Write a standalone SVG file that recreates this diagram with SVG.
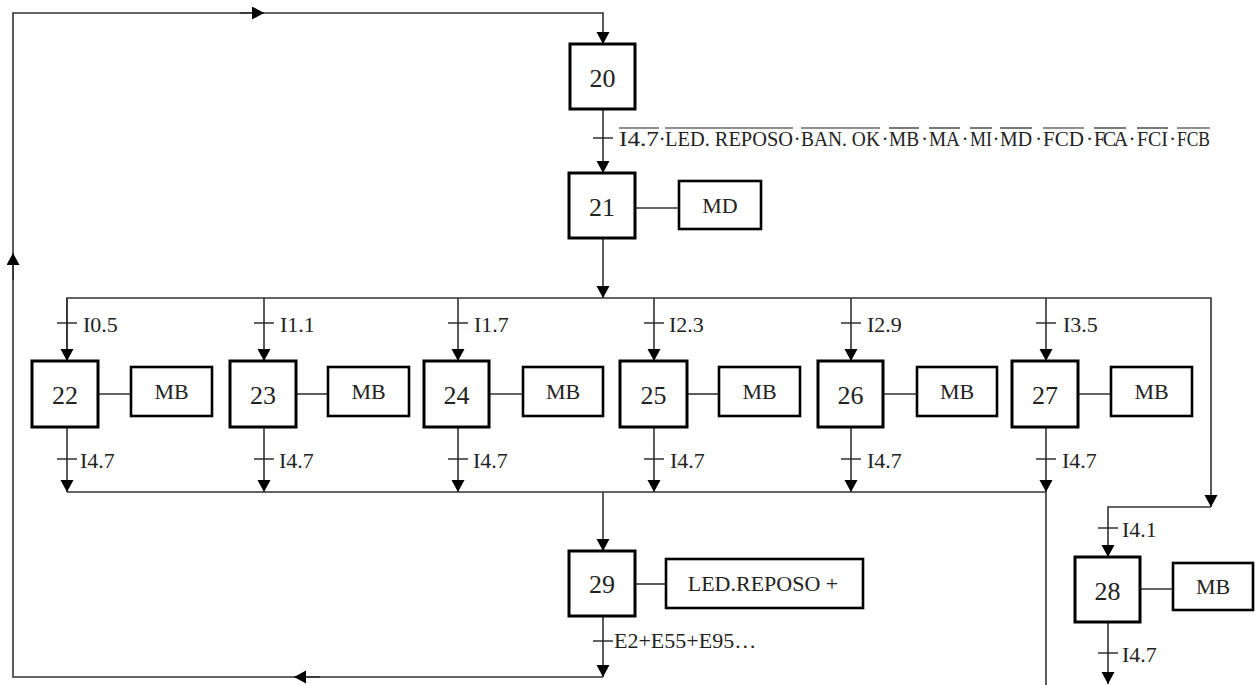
<svg xmlns="http://www.w3.org/2000/svg" width="1259" height="685" viewBox="0 0 1259 685">
<style>
.step{fill:#fff;stroke:#000;stroke-width:3}
.act{fill:#fff;stroke:#000;stroke-width:2.6}
.ln{fill:none;stroke:#333;stroke-width:1.6}
.tk{stroke:#222;stroke-width:1.4}
text{font-family:"Liberation Serif","Times New Roman",serif;fill:#222}
.num{font-size:26px;text-anchor:middle}
.an{font-size:22px;text-anchor:middle}
.lb{font-size:22px}
.cd{font-size:20px}
.dt{font-size:20px;text-anchor:middle}
.ov{stroke:#222;stroke-width:1.2}
</style>
<defs>
<marker id="ah" markerWidth="14" markerHeight="14" refX="12" refY="6.5" orient="auto" markerUnits="userSpaceOnUse">
<path d="M0,0 L12,6.5 L0,13 z" fill="#000"/>
</marker>
</defs>
<rect width="1259" height="685" fill="#fff"/>
<g id="connectors">
<path class="ln" d="M603,677 H13 V13 H603 V44" marker-end="url(#ah)"/>
<path class="ln" d="M240,13 H264" marker-end="url(#ah)"/>
<path class="ln" d="M13,280 V253" marker-end="url(#ah)"/>
<path class="ln" d="M320,677 H294" marker-end="url(#ah)"/>
<path class="ln" d="M603,109 V173" marker-end="url(#ah)"/>
<line class="tk" x1="593" y1="138" x2="613" y2="138"/>
<path class="ln" d="M603,238 V298" marker-end="url(#ah)"/>
<path class="ln" d="M67,361 V298 H1211 V507" marker-end="url(#ah)"/>
<path class="ln" d="M67,298 V361" marker-end="url(#ah)"/>
<path class="ln" d="M264,298 V361" marker-end="url(#ah)"/>
<path class="ln" d="M458,298 V361" marker-end="url(#ah)"/>
<path class="ln" d="M654,298 V361" marker-end="url(#ah)"/>
<path class="ln" d="M851,298 V361" marker-end="url(#ah)"/>
<path class="ln" d="M1046,298 V361" marker-end="url(#ah)"/>
<line class="tk" x1="57" y1="323" x2="77" y2="323"/>
<line class="tk" x1="254" y1="323" x2="274" y2="323"/>
<line class="tk" x1="448" y1="323" x2="468" y2="323"/>
<line class="tk" x1="644" y1="323" x2="664" y2="323"/>
<line class="tk" x1="841" y1="323" x2="861" y2="323"/>
<line class="tk" x1="1036" y1="323" x2="1056" y2="323"/>
<path class="ln" d="M67,427 V492" marker-end="url(#ah)"/>
<path class="ln" d="M264,427 V492" marker-end="url(#ah)"/>
<path class="ln" d="M458,427 V492" marker-end="url(#ah)"/>
<path class="ln" d="M654,427 V492" marker-end="url(#ah)"/>
<path class="ln" d="M851,427 V492" marker-end="url(#ah)"/>
<path class="ln" d="M1046,427 V492" marker-end="url(#ah)"/>
<line class="tk" x1="57" y1="459" x2="77" y2="459"/>
<line class="tk" x1="254" y1="459" x2="274" y2="459"/>
<line class="tk" x1="448" y1="459" x2="468" y2="459"/>
<line class="tk" x1="644" y1="459" x2="664" y2="459"/>
<line class="tk" x1="841" y1="459" x2="861" y2="459"/>
<line class="tk" x1="1036" y1="459" x2="1056" y2="459"/>
<path class="ln" d="M67,492 H1046 V685"/>
<path class="ln" d="M603,492 V551" marker-end="url(#ah)"/>
<path class="ln" d="M603,616 V677" marker-end="url(#ah)"/>
<line class="tk" x1="593" y1="641" x2="613" y2="641"/>
<path class="ln" d="M1211,507 H1108 V557" marker-end="url(#ah)"/>
<line class="tk" x1="1098" y1="528" x2="1118" y2="528"/>
<path class="ln" d="M1108,622 V684" marker-end="url(#ah)"/>
<line class="tk" x1="1098" y1="653" x2="1118" y2="653"/>
<line class="ln" x1="635" y1="208" x2="679" y2="208"/>
<line class="ln" x1="98" y1="394" x2="131" y2="394"/>
<line class="ln" x1="296" y1="394" x2="328" y2="394"/>
<line class="ln" x1="489" y1="394" x2="523" y2="394"/>
<line class="ln" x1="687" y1="394" x2="719" y2="394"/>
<line class="ln" x1="883" y1="394" x2="917" y2="394"/>
<line class="ln" x1="1078" y1="394" x2="1111" y2="394"/>
<line class="ln" x1="635" y1="584" x2="666" y2="584"/>
<line class="ln" x1="1140" y1="589" x2="1173" y2="589"/>
<g id="cond20">
<text class="cd" x="619" y="146" textLength="40" lengthAdjust="spacingAndGlyphs">I4.7</text>
<text class="cd" x="665" y="146" textLength="128" lengthAdjust="spacingAndGlyphs">LED. REPOSO</text>
<text class="cd" x="801" y="146" textLength="79" lengthAdjust="spacingAndGlyphs">BAN. OK</text>
<text class="cd" x="889" y="146" textLength="30" lengthAdjust="spacingAndGlyphs">MB</text>
<text class="cd" x="929" y="146" textLength="31" lengthAdjust="spacingAndGlyphs">MA</text>
<text class="cd" x="970" y="146" textLength="22" lengthAdjust="spacingAndGlyphs">MI</text>
<text class="cd" x="1000" y="146" textLength="32" lengthAdjust="spacingAndGlyphs">MD</text>
<text class="cd" x="1043" y="146" textLength="41" lengthAdjust="spacingAndGlyphs">FCD</text>
<text class="cd" x="1094" y="146" letter-spacing="-2.4">FCA</text>
<text class="cd" x="1137" y="146" textLength="31" lengthAdjust="spacingAndGlyphs">FCI</text>
<text class="cd" x="1177" y="146" textLength="33" lengthAdjust="spacingAndGlyphs">FCB</text>
<text class="dt" x="662" y="146">·</text>
<text class="dt" x="797" y="146">·</text>
<text class="dt" x="885" y="146">·</text>
<text class="dt" x="924.5" y="146">·</text>
<text class="dt" x="965" y="146">·</text>
<text class="dt" x="996" y="146">·</text>
<text class="dt" x="1038.5" y="146">·</text>
<text class="dt" x="1089.5" y="146">·</text>
<text class="dt" x="1132" y="146">·</text>
<text class="dt" x="1172.5" y="146">·</text>
<line class="ov" x1="619" y1="128" x2="659" y2="128"/>
<line class="ov" x1="665" y1="128" x2="793" y2="128"/>
<line class="ov" x1="801" y1="128" x2="880" y2="128"/>
<line class="ov" x1="889" y1="128" x2="919" y2="128"/>
<line class="ov" x1="929" y1="128" x2="960" y2="128"/>
<line class="ov" x1="970" y1="128" x2="992" y2="128"/>
<line class="ov" x1="1000" y1="128" x2="1032" y2="128"/>
<line class="ov" x1="1043" y1="128" x2="1084" y2="128"/>
<line class="ov" x1="1094" y1="128" x2="1126" y2="128"/>
<line class="ov" x1="1137" y1="128" x2="1168" y2="128"/>
<line class="ov" x1="1177" y1="128" x2="1210" y2="128"/>
</g>
<text class="lb" x="83" y="332">I0.5</text>
<text class="lb" x="280" y="332">I1.1</text>
<text class="lb" x="474" y="332">I1.7</text>
<text class="lb" x="669" y="332">I2.3</text>
<text class="lb" x="867" y="332">I2.9</text>
<text class="lb" x="1063" y="332">I3.5</text>
<text class="lb" x="80" y="468">I4.7</text>
<text class="lb" x="279" y="468">I4.7</text>
<text class="lb" x="473" y="468">I4.7</text>
<text class="lb" x="670" y="468">I4.7</text>
<text class="lb" x="867" y="468">I4.7</text>
<text class="lb" x="1062" y="468">I4.7</text>
<text class="lb" x="614" y="648">E2+E55+E95…</text>
<text class="lb" x="1122" y="537">I4.1</text>
<text class="lb" x="1122" y="662">I4.7</text>
</g>
<g id="step20"><rect class="step" x="570" y="44" width="65" height="65"/><text class="num" x="602.5" y="87">20</text></g>
<g id="step21"><rect class="step" x="569" y="173" width="66" height="65"/><text class="num" x="602" y="216">21</text></g>
<g id="action21"><rect class="act" x="679" y="181" width="82" height="48"/><text class="an" x="720" y="213">MD</text></g>
<g id="step22"><rect class="step" x="32" y="361" width="66" height="66"/><text class="num" x="65" y="404">22</text></g>
<g id="action22"><rect class="act" x="131" y="367" width="81" height="49"/><text class="an" x="171.5" y="399">MB</text></g>
<g id="step23"><rect class="step" x="230" y="361" width="66" height="66"/><text class="num" x="263" y="404">23</text></g>
<g id="action23"><rect class="act" x="328" y="367" width="81" height="49"/><text class="an" x="368.5" y="399">MB</text></g>
<g id="step24"><rect class="step" x="424" y="361" width="65" height="66"/><text class="num" x="456.5" y="404">24</text></g>
<g id="action24"><rect class="act" x="523" y="367" width="80" height="49"/><text class="an" x="563" y="399">MB</text></g>
<g id="step25"><rect class="step" x="620" y="361" width="67" height="66"/><text class="num" x="653.5" y="404">25</text></g>
<g id="action25"><rect class="act" x="719" y="367" width="81" height="49"/><text class="an" x="759.5" y="399">MB</text></g>
<g id="step26"><rect class="step" x="818" y="361" width="65" height="66"/><text class="num" x="850.5" y="404">26</text></g>
<g id="action26"><rect class="act" x="917" y="367" width="80" height="49"/><text class="an" x="957" y="399">MB</text></g>
<g id="step27"><rect class="step" x="1012" y="361" width="66" height="66"/><text class="num" x="1045" y="404">27</text></g>
<g id="action27"><rect class="act" x="1111" y="367" width="81" height="49"/><text class="an" x="1151.5" y="399">MB</text></g>
<g id="step28"><rect class="step" x="1075" y="557" width="65" height="65"/><text class="num" x="1107.5" y="600">28</text></g>
<g id="action28"><rect class="act" x="1173" y="563" width="80" height="47"/><text class="an" x="1213" y="594">MB</text></g>
<g id="step29"><rect class="step" x="569" y="551" width="66" height="65"/><text class="num" x="602" y="593">29</text></g>
<g id="action29"><rect class="act" x="666" y="559" width="197" height="49"/><text class="an" x="763" y="591" font-size="21">LED.REPOSO +</text></g>
</svg>
